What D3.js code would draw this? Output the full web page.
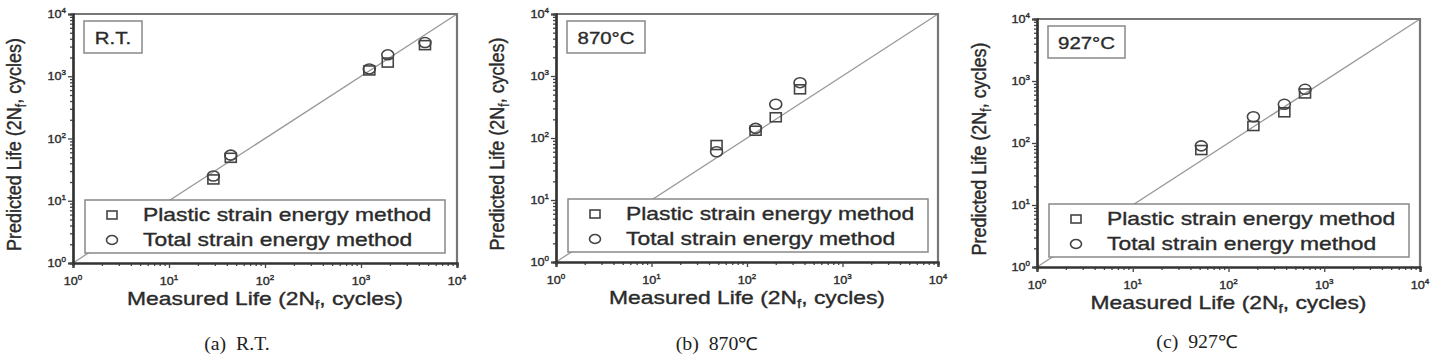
<!DOCTYPE html>
<html>
<head>
<meta charset="utf-8">
<script src="https://cdn.jsdelivr.net/npm/d3@7"></script>
<style>
  body { margin: 0; background: #fff; }
  text { font-family: "Liberation Sans", Arial, sans-serif; fill: #2b2b2b; stroke: #2b2b2b; stroke-width: 0.35; }
  .cap { font-family: "Liberation Serif", "Times New Roman", serif; fill: #222; stroke: none; white-space: pre; }
</style>
</head>
<body>
<svg id="chart" width="1455" height="360"></svg>
<script>
// ---- data ----
const panelLabels = ["R.T.", "870°C", "927°C"];
const captions = ["(a)  R.T.", "(b)  870℃", "(c)  927℃"];
const seriesNames = ["Plastic strain energy method", "Total strain energy method"];
const decades = [0, 1, 2, 3, 4];

const measuredRT = [29, 44, 1220, 1900, 4640];
const plasticRT = [22, 49, 1240, 1660, 3160];
const totalRT = [25, 54, 1310, 2210, 3480];

const measured870 = [48, 123, 200, 359];
const plastic870 = [77, 131, 216, 610];
const total870 = [60, 143, 350, 780];

const measured927 = [52, 182, 383, 630];
const plastic927 = [77, 188, 313, 630];
const total927 = [90, 265, 421, 735];

// panel frames (pixels)
const panels = [
  { left: 73, top: 14, right: 457, bottom: 263, ylab: 15, cap: 237, capY: 350,
    x: measuredRT, p: plasticRT, t: totalRT, boxW: 58 },
  { left: 556, top: 14, right: 938, bottom: 262, ylab: 498, cap: 717, capY: 350,
    x: measured870, p: plastic870, t: total870, boxW: 78 },
  { left: 1037, top: 19, right: 1420, bottom: 267, ylab: 980, cap: 1197, capY: 348,
    x: measured927, p: plastic927, t: total927, boxW: 77 }
];

const SX = 1.27; // the original picture is stretched horizontally
const svg = d3.select("#chart");

function stretched(g, x, y, size, anchor, sx = SX) {
  return g.append("text")
    .attr("transform", `translate(${x},${y}) scale(${sx},1)`)
    .attr("text-anchor", anchor)
    .attr("font-size", size);
}

function powLabel(g, x, y, k, anchor) {
  const t = stretched(g, x, y, 11, anchor, 1.15).attr("stroke-width", 0.2);
  t.append("tspan").text("10");
  t.append("tspan").attr("dy", -5).attr("font-size", 7).text(k);
  return t;
}

function lifeLabel(t, start) {
  t.append("tspan").text(start + " Life (2N");
  t.append("tspan").attr("dy", 4).attr("font-size", 12).text("f");
  t.append("tspan").attr("dy", -4).text(", cycles)");
}

panels.forEach((pn, i) => {
  const g = svg.append("g");
  const x = d3.scaleLog().domain([1, 1e4]).range([pn.left, pn.right]);
  const y = d3.scaleLog().domain([1, 1e4]).range([pn.bottom, pn.top]);

  const minor = [];
  decades.slice(0, 4).forEach(k => {
    for (let m = 2; m <= 9; m++) minor.push(m * Math.pow(10, k));
  });
  const major = decades.map(k => Math.pow(10, k));

  // diagonal 1:1 line
  g.append("line")
    .attr("x1", x(1)).attr("y1", y(1))
    .attr("x2", x(1e4)).attr("y2", y(1e4))
    .attr("stroke", "#999").attr("stroke-width", 1.3);

  // top and right frame
  g.append("path")
    .attr("d", `M${pn.left},${pn.top}H${pn.right}V${pn.bottom}`)
    .attr("fill", "none").attr("stroke", "#777").attr("stroke-width", 2.2);

  // axes
  g.append("g").attr("transform", `translate(0,${pn.bottom})`)
    .call(d3.axisBottom(x).tickValues(minor).tickSize(3).tickFormat(""));
  g.append("g").attr("transform", `translate(0,${pn.bottom})`)
    .call(d3.axisBottom(x).tickValues(major).tickSize(5).tickFormat(""));
  g.append("g").attr("transform", `translate(${pn.left},0)`)
    .call(d3.axisLeft(y).tickValues(minor).tickSize(3).tickFormat(""));
  g.append("g").attr("transform", `translate(${pn.left},0)`)
    .call(d3.axisLeft(y).tickValues(major).tickSize(5).tickFormat(""));
  g.selectAll(".domain").attr("stroke", "#333").attr("stroke-width", 2.2);
  g.selectAll(".tick line").attr("stroke", "#444").attr("stroke-width", 1.3);

  decades.forEach(k => {
    powLabel(g, x(Math.pow(10, k)), pn.bottom + 22, k, "middle");
    powLabel(g, pn.left - 7, y(Math.pow(10, k)) + 4, k, "end");
  });

  // axis titles
  lifeLabel(stretched(g, (pn.left + pn.right) / 2, pn.bottom + 42, 18, "middle"), "Measured");
  lifeLabel(g.append("text")
    .attr("transform", `translate(${pn.ylab + 6},${(pn.top + pn.bottom) / 2 + 6}) rotate(-90) scale(1,1.15)`)
    .attr("text-anchor", "middle").attr("font-size", 18), "Predicted");

  // temperature box
  g.append("rect")
    .attr("x", pn.left + 11).attr("y", pn.top + 7)
    .attr("width", pn.boxW).attr("height", 32)
    .attr("fill", "#fff").attr("stroke", "#888").attr("stroke-width", 1.5);
  stretched(g, pn.left + 11 + pn.boxW / 2, pn.top + 30, 17, "middle", 1.2)
    .text(panelLabels[i]);

  // points
  const pts = pn.x.map((m, j) => ({ m, p: pn.p[j], t: pn.t[j] }));
  g.selectAll("rect.sq").data(pts).join("rect")
    .attr("class", "sq")
    .attr("x", d => x(d.m) - 5.5).attr("y", d => y(d.p) - 4.5)
    .attr("width", 11).attr("height", 9)
    .attr("fill", "none").attr("stroke", "#444").attr("stroke-width", 1.6);
  g.selectAll("ellipse.ci").data(pts).join("ellipse")
    .attr("class", "ci")
    .attr("cx", d => x(d.m)).attr("cy", d => y(d.t))
    .attr("rx", 6).attr("ry", 5)
    .attr("fill", "none").attr("stroke", "#444").attr("stroke-width", 1.6);

  // legend
  const lg = g.append("g");
  lg.append("rect")
    .attr("x", pn.left + 12).attr("y", pn.bottom - 63)
    .attr("width", 360).attr("height", 53)
    .attr("fill", "#fff").attr("stroke", "#888").attr("stroke-width", 1.5);
  const mx = pn.left + 39;
  lg.append("rect")
    .attr("x", mx - 5).attr("y", pn.bottom - 52).attr("width", 10).attr("height", 8)
    .attr("fill", "none").attr("stroke", "#444").attr("stroke-width", 1.6);
  lg.append("ellipse")
    .attr("cx", mx).attr("cy", pn.bottom - 23).attr("rx", 5.5).attr("ry", 4.5)
    .attr("fill", "none").attr("stroke", "#444").attr("stroke-width", 1.6);
  seriesNames.forEach((s, j) => {
    stretched(lg, pn.left + 70, pn.bottom - 42 + j * 25, 18, "start").text(s);
  });

  // caption
  stretched(svg, pn.cap, pn.capY, 18, "middle", 1.1).attr("class", "cap").text(captions[i]);
});
</script>
</body>
</html>
